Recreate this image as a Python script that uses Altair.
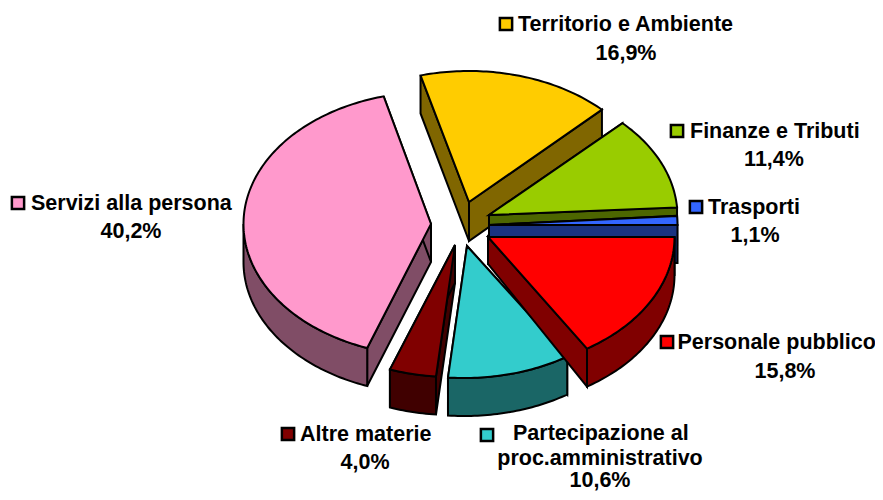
import math
import altair as alt

# --- data ---
categories = ["Personale pubblico", "Partecipazione al proc.amministrativo", "Altre materie",
              "Servizi alla persona", "Territorio e Ambiente", "Finanze e Tributi", "Trasporti"]
shares = [15.8, 10.6, 4.0, 40.2, 16.9, 11.4, 1.1]
top_colors = ["#FF0000", "#33CCCC", "#800000", "#FF99CC", "#FFCC00", "#99CC00", "#3366FF"]
wall_colors = ["#800000", "#1A6666", "#400000", "#804D66", "#806600", "#4D6600", "#1A3380"]
pct_labels = ["15,8%", "10,6%", "4,0%", "40,2%", "16,9%", "11,4%", "1,1%"]

# --- layout of the exploded 3-D pie (page pixels) ---
RX, RY, DEPTH = 188, 132, 38
# tip of each slice (x, y, height of the wall under the tip)
apex = {0: (488, 237, 27), 1: (467, 246, 38), 2: (455, 245, 38), 3: (431, 224, 38),
        4: (469, 202, 39), 5: (489, 215, 38), 6: (489, 225, 38)}
# centre of each slice's rim ellipse
rim = {0: (486.5, 237), 1: (464.5, 246), 2: (452.5, 245), 3: (431.5, 224),
       4: (469, 203), 5: (489.5, 216.5), 6: (489.5, 225)}
# small perspective corrections of the rim angles (degrees)
nudge = {0: (0, 0.8), 1: (0, 0), 2: (0, 0), 3: (0.56, 1.1), 4: (0.9, 0), 5: (0, 0), 6: (0, 0)}
draw_order = [4, 5, 6, 3, 2, 1, 0]

edges = [0.0]
for s in shares:
    edges.append(edges[-1] + s * 3.6)


def feat(points, color):
    ring = [[float(x), float(y)] for x, y in points]
    ring = ring + [ring[0]]
    return {"type": "Feature", "properties": {"fill": color},
            "geometry": {"type": "Polygon", "coordinates": [ring]}}


def pt(c, deg):
    t = math.radians(deg)
    return (c[0] + RX * math.cos(t), c[1] + RY * math.sin(t))


features = []
for i in draw_order:
    ax, ay, ad = apex[i]
    a0, a1 = edges[i] + nudge[i][0], edges[i + 1] + nudge[i][1]
    n = max(4, int(a1 - a0))
    arc = [pt(rim[i], a0 + (a1 - a0) * k / n) for k in range(n + 1)]
    # the two cut walls
    for p in (arc[0], arc[-1]):
        features.append(feat([(ax, ay), p, (p[0], p[1] + DEPTH), (ax, ay + ad)], wall_colors[i]))
    # outer wall: only the part of the rim that faces the viewer
    f0, f1 = a0, min(a1, 180.0)
    if f1 > f0:
        m = max(4, int(f1 - f0))
        front = [pt(rim[i], f0 + (f1 - f0) * k / m) for k in range(m + 1)]
        features.append(feat(front + [(x, y + DEPTH) for x, y in front[::-1]], wall_colors[i]))
    # top face
    features.append(feat([(ax, ay)] + arc, top_colors[i]))

W, H = 867, 484
pie = alt.Chart(alt.Data(values=features)).mark_geoshape(
    stroke="black", strokeWidth=2, strokeJoin="miter"
).encode(
    fill=alt.Fill("properties.fill:N", scale=None)
).project(type="identity", scale=1, translate=[-8, -8])

FONT = dict(font="Liberation Sans", fontWeight="bold", fontSize=21.5, color="black")


def label(text, x, y, align="center"):
    return alt.Chart(alt.Data(values=[{"t": text}])).mark_text(align=align, baseline="middle", **FONT).encode(
        text="t:N", x=alt.value(x - 8), y=alt.value(y - 8))


def key(color, x, y):
    return alt.Chart(alt.Data(values=[{"k": 1}])).mark_point(
        shape="square", filled=True, size=150, fill=color, stroke="black", strokeWidth=2.5, opacity=1
    ).encode(x=alt.value(x - 8), y=alt.value(y - 8))


layers = [pie]
layers += [key(top_colors[4], 506, 24), label("Territorio e Ambiente", 518, 25, "left"), label(pct_labels[4], 626, 54)]
layers += [key(top_colors[5], 677, 131), label("Finanze e Tributi", 690, 132, "left"), label(pct_labels[5], 774, 160)]
layers += [key(top_colors[6], 696, 207), label("Trasporti", 708, 208, "left"), label(pct_labels[6], 755, 236)]
layers += [key(top_colors[0], 667, 342), label(categories[0], 677.5, 343, "left"), label(pct_labels[0], 785, 372)]
layers += [key(top_colors[1], 487, 435), label("Partecipazione al", 513, 434, "left"),
           label("proc.amministrativo", 600, 459), label(pct_labels[1], 600, 481)]
layers += [key(top_colors[2], 288, 434), label(categories[2], 300, 435, "left"), label(pct_labels[2], 365, 463)]
layers += [key(top_colors[3], 18, 203), label(categories[3], 31, 204, "left"), label(pct_labels[3], 131, 232)]

chart = alt.layer(*layers).properties(
    width=W, height=H, padding=0, background="white", autosize=alt.AutoSizeParams(type="none")
).configure_view(stroke=None)
chart.save("out.html", embed_options={"renderer": "svg", "actions": False})
